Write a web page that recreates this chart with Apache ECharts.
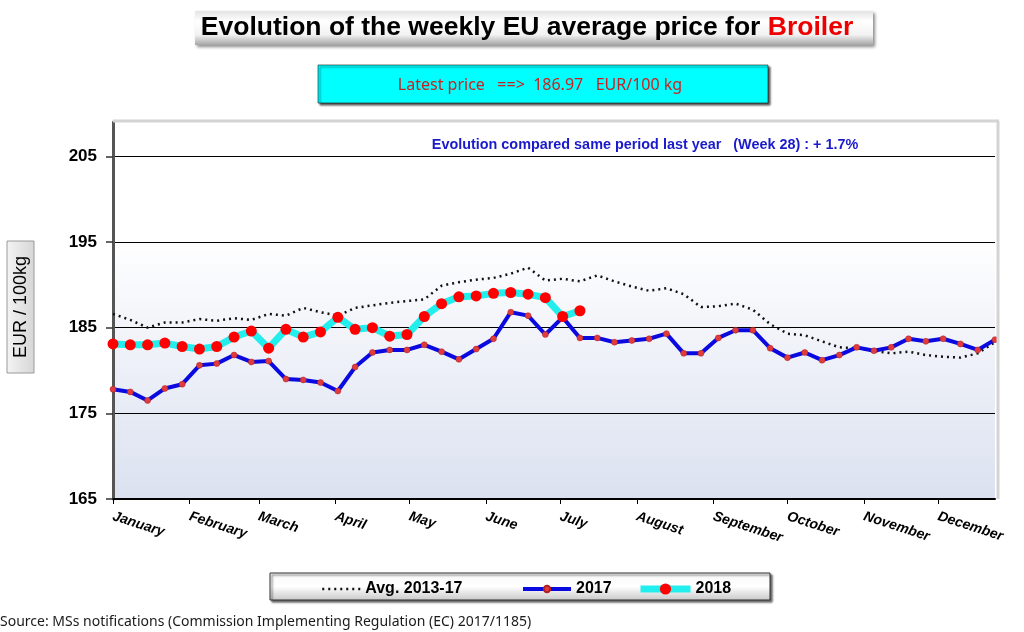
<!DOCTYPE html>
<html><head><meta charset="utf-8">
<script src="https://cdn.jsdelivr.net/npm/echarts@6/dist/echarts.min.js"></script>
<style>html,body{margin:0;padding:0;background:#fff}#c{width:1024px;height:632px}</style>
</head><body><div id="c"></div>
<script>
// ---- data ----
const monthLabels = ['January','February','March','April','May','June','July','August','September','October','November','December'];
const monthStartDays = [0,31,59,90,120,151,181,212,243,273,304,334];
const yTicks = [165,175,185,195,205];
const avg1317 = [186.6,185.9,185.0,185.6,185.6,186.0,185.8,186.1,185.9,186.6,186.4,187.3,186.8,
                 186.4,187.3,187.6,187.9,188.1,188.3,189.9,190.3,190.6,190.8,191.3,192.0,190.5,
                 190.7,190.4,191.1,190.4,189.8,189.3,189.6,188.9,187.4,187.5,187.8,187.1,185.4,
                 184.3,184.1,183.4,182.7,182.6,182.3,182.0,182.2,181.8,181.6,181.5,182.0,183.3];
const y2017 = [177.8,177.5,176.5,177.9,178.4,180.6,180.8,181.8,181.0,181.1,179.0,178.9,178.6,
               177.6,180.4,182.1,182.4,182.4,183.0,182.2,181.3,182.5,183.7,186.8,186.4,184.2,
               186.2,183.8,183.8,183.3,183.5,183.7,184.3,182.0,182.0,183.8,184.7,184.7,182.6,
               181.5,182.1,181.2,181.8,182.7,182.3,182.7,183.7,183.4,183.7,183.1,182.4,183.6];
const y2018 = [183.1,183.0,183.0,183.2,182.8,182.5,182.8,183.9,184.6,182.6,184.8,183.9,184.5,
               186.2,184.8,185.0,184.0,184.2,186.3,187.8,188.6,188.7,189.0,189.1,188.9,188.5,
               186.3,186.97];
const seriesNames = ['Avg. 2013-17','2017','2018'];
const titleMain = 'Evolution of the weekly EU average price for ';
const titleRed = 'Broiler';
const latestText = 'Latest price   ==>  186.97   EUR/100 kg';
const compareText = 'Evolution compared same period last year   (Week 28) : + 1.7%';
const yName = 'EUR / 100kg';
const sourceText = 'Source: MSs notifications (Commission Implementing Regulation (EC) 2017/1185)';

// ---- build ----
const toPts = arr => arr.map((v, i) => [i, v]);
const monthTicks = monthStartDays.map(d => d / 7);
const legendText = {fontFamily: 'Liberation Sans, Arial', fontWeight: 'bold', fontSize: 16, color: '#000'};

const chart = echarts.init(document.getElementById('c'), null, {renderer: 'canvas'});
const option = {
  animation: false,
  backgroundColor: '#ffffff',
  grid: {
    left: 113, right: 29, top: 122, bottom: 133,
    show: true, borderWidth: 0,
    outerBoundsMode: 'none',
    backgroundColor: {
      type: 'linear', x: 0, y: 0, x2: 0, y2: 1,
      colorStops: [{offset: 0, color: '#ffffff'}, {offset: 0.3, color: '#ffffff'}, {offset: 1, color: '#dbe1f0'}]
    }
  },
  xAxis: {
    type: 'value', min: 0, max: y2017.length - 1,
    axisLine: {lineStyle: {color: '#000', width: 2}},
    axisTick: {show: true, customValues: monthTicks, length: 5, lineStyle: {color: '#000', width: 1}},
    splitLine: {show: false},
    axisLabel: {
      customValues: monthTicks, rotate: -18, margin: 17,
      color: '#000', fontFamily: 'Liberation Sans, Arial', fontWeight: 'bold', fontStyle: 'italic', fontSize: 14,
      formatter: v => {
        for (let i = 0; i < monthTicks.length; i++) if (Math.abs(monthTicks[i] - v) < 1e-6) return monthLabels[i];
        return '';
      }
    }
  },
  yAxis: {
    type: 'value', min: 165, max: 209,
    axisLine: {show: true, lineStyle: {color: '#555', width: 3}},
    axisTick: {show: true, customValues: yTicks, length: 7, lineStyle: {color: '#333', width: 1.5}},
    axisLabel: {customValues: yTicks, margin: 16, color: '#000', fontFamily: 'Liberation Sans, Arial', fontWeight: 'bold', fontSize: 17},
    splitLine: {show: true, lineStyle: {color: '#000', width: 1.2}}
  },
  legend: [
    {data: [seriesNames[0]], left: 316, top: 576, itemWidth: 38, itemHeight: 14, itemStyle: {color: 'rgba(0,0,0,0)', borderWidth: 0},
     lineStyle: {width: 2.5}, textStyle: legendText},
    {data: [seriesNames[1]], left: 516, top: 576, itemWidth: 48, itemHeight: 8,
     lineStyle: {width: 4}, textStyle: legendText},
    {data: [seriesNames[2]], left: 632, top: 576, itemWidth: 50, itemHeight: 14,
     lineStyle: {width: 7}, textStyle: legendText}
  ],
  series: [
    {name: seriesNames[0], type: 'line', data: toPts(avg1317), showSymbol: false, symbol: 'none',
     lineStyle: {color: '#111', width: 2.5, type: [2, 4]}, itemStyle: {color: '#111'}, z: 3},
    {name: seriesNames[1], type: 'line', data: toPts(y2017), symbol: 'circle', symbolSize: 6,
     lineStyle: {color: '#0a0ae0', width: 4}, itemStyle: {color: '#e03c3c', borderColor: '#b02020', borderWidth: 0.5}, z: 4},
    {name: seriesNames[2], type: 'line', data: toPts(y2018), symbol: 'circle', symbolSize: 11,
     lineStyle: {color: '#22eeee', width: 7}, itemStyle: {color: '#ff0000'}, z: 5}
  ],
  graphic: [
    // plot frame (top / right)
    {type: 'line', shape: {x1: 113, y1: 121, x2: 999, y2: 121}, style: {stroke: '#d4d4d4', lineWidth: 3}, z: 10},
    {type: 'line', shape: {x1: 998, y1: 121, x2: 998, y2: 499}, style: {stroke: '#d4d4d4', lineWidth: 3}, z: 10},
    // title box
    {type: 'rect', shape: {x: 195, y: 11, width: 678, height: 34},
     style: {fill: {type: 'linear', x: 0, y: 0, x2: 0, y2: 1,
       colorStops: [{offset: 0, color: '#e4e4e4'}, {offset: 0.3, color: '#ffffff'}, {offset: 0.7, color: '#f2f2f2'}, {offset: 1, color: '#a6a6a6'}]},
       shadowBlur: 3, shadowColor: 'rgba(0,0,0,0.45)', shadowOffsetX: 2, shadowOffsetY: 2}, z: 1},
    {type: 'text', x: 527, y: 28, z: 2,
     style: {text: '{a|' + titleMain + '}{b|' + titleRed + '}', align: 'center', verticalAlign: 'middle',
       rich: {a: {fontFamily: 'Liberation Sans, Arial', fontWeight: 'bold', fontSize: 26.5, fill: '#000'},
              b: {fontFamily: 'Liberation Sans, Arial', fontWeight: 'bold', fontSize: 26.5, fill: '#ee0000'}}}},
    // latest price box
    {type: 'rect', shape: {x: 318, y: 65, width: 450, height: 38},
     style: {fill: '#00ffff', stroke: '#1a1a1a', lineWidth: 0.6, shadowBlur: 2, shadowColor: 'rgba(0,0,0,0.7)', shadowOffsetX: 2, shadowOffsetY: 2}, z: 1},
    {type: 'text', x: 540, y: 85, z: 2,
     style: {text: latestText, align: 'center', verticalAlign: 'middle', fontFamily: 'Noto Sans', fontSize: 16, fill: '#cc1f1f'}},
    // compare text
    {type: 'text', x: 645, y: 145, z: 12,
     style: {text: compareText, align: 'center', verticalAlign: 'middle', fontFamily: 'Liberation Sans, Arial', fontWeight: 'bold', fontSize: 14.4, fill: '#1a1acc'}},
    // y name box
    {type: 'rect', shape: {x: 7, y: 241, width: 27, height: 132},
     style: {fill: {type: 'linear', x: 0, y: 0, x2: 1, y2: 0,
       colorStops: [{offset: 0, color: '#f4f4f4'}, {offset: 1, color: '#d6d6d6'}]}, stroke: '#9a9a9a', lineWidth: 1}, z: 1},
    {type: 'text', x: 21, y: 307, rotation: Math.PI / 2, z: 2,
     style: {text: yName, align: 'center', verticalAlign: 'middle', fontFamily: 'Liberation Sans, Arial', fontSize: 18, fill: '#000'}},
    // legend box
    {type: 'rect', shape: {x: 270, y: 573, width: 500, height: 27},
     style: {fill: {type: 'linear', x: 0, y: 0, x2: 0, y2: 1,
       colorStops: [{offset: 0, color: '#f8f8f8'}, {offset: 0.5, color: '#ffffff'}, {offset: 1, color: '#c8c8c8'}]},
       stroke: '#333', lineWidth: 1, shadowBlur: 2, shadowColor: 'rgba(0,0,0,0.6)', shadowOffsetX: 2, shadowOffsetY: 2}, z: -1},
    // source
    {type: 'text', x: 0, y: 622, z: 2,
     style: {text: sourceText, align: 'left', verticalAlign: 'middle', fontFamily: 'Noto Sans', fontSize: 14, fill: '#1a1a1a'}}
  ]
};
chart.setOption(option);
</script>
</body></html>
